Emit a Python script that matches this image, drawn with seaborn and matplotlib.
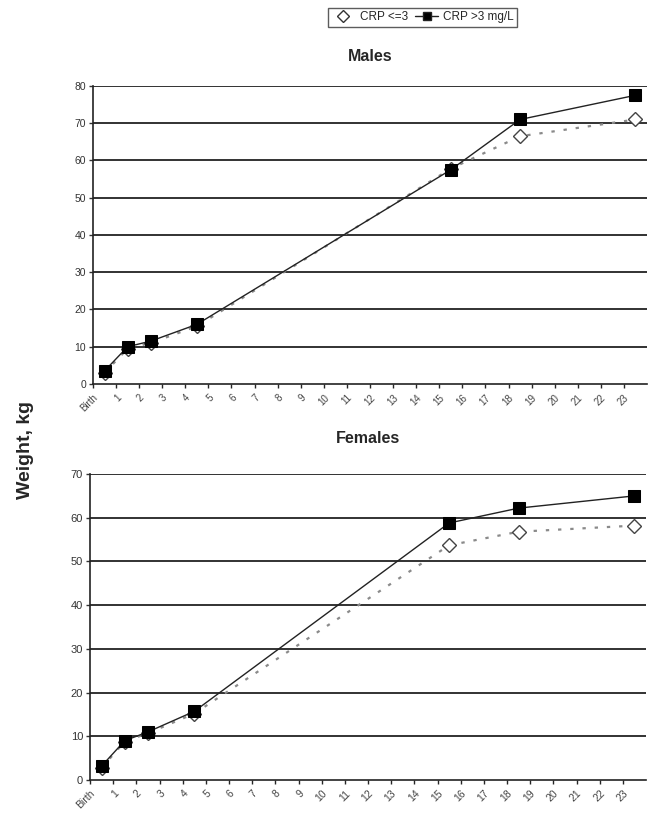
import matplotlib
matplotlib.use("Agg")
import matplotlib.pyplot as plt
from matplotlib.lines import Line2D
import seaborn as sns
import pandas as pd
import numpy as np

# ---- data ----
tick_labels = ["Birth"] + [str(i) for i in range(1, 24)]
age_categories = ["Birth", "1", "2", "4", "15", "18", "23"]
male_low = [3.0, 9.5, 11.0, 15.5, 57.8, 66.5, 71.0]
male_high = [3.5, 10.0, 11.5, 16.0, 57.5, 71.0, 77.5]
female_low = [2.8, 8.8, 10.7, 15.2, 53.7, 56.8, 58.2]
female_high = [3.2, 9.0, 11.0, 15.7, 58.8, 62.2, 65.0]
series_names = ["CRP <=3", "CRP >3 mg/L"]

sns.set_style("white")
plt.rcParams["font.family"] = ["Liberation Sans", "DejaVu Sans"]

fig = plt.figure(figsize=(6.48, 8.18), dpi=100)
ax_m = fig.add_axes([0.1435, 0.5306, 0.855, 0.3643])
ax_f = fig.add_axes([0.139, 0.0465, 0.858, 0.374])

# category centre positions on a 0..24 axis (ticks at integers)
pos = [tick_labels.index(c) + 0.5 for c in age_categories]


def draw(ax, low, high, ymax, title, fs_tick, tpad):
    df = pd.DataFrame({"x": pos, "low": low, "high": high})
    sns.lineplot(data=df, x="x", y="low", ax=ax, color="#8a8a8a",
                 linestyle=(0, (1.5, 4)), linewidth=1.6, marker="D",
                 markersize=7.5, markerfacecolor="white",
                 markeredgecolor="#444444", markeredgewidth=1.0, zorder=3)
    sns.lineplot(data=df, x="x", y="high", ax=ax, color="#222222",
                 linewidth=1.0, marker="s", markersize=8,
                 markerfacecolor="black", markeredgecolor="black", zorder=4)
    ax.set_xlim(0, 24)
    ax.set_ylim(0, ymax)
    ax.set_yticks(np.arange(0, ymax + 1, 10))
    for v in np.arange(10, ymax + 1, 10):
        ax.axhline(v, color="#222222", linewidth=1.3, zorder=1)
    ax.set_xticks(np.arange(0, 24))
    ax.set_xticklabels(tick_labels, rotation=45, ha="right",
                       rotation_mode="anchor", fontsize=fs_tick,
                       color="#444444")
    ax.tick_params(axis="y", labelsize=fs_tick + 0.5, colors="#333333",
                   length=3, width=1, direction="out", left=True, pad=2)
    ax.tick_params(axis="x", length=3, width=1, direction="out",
                   bottom=True, pad=3)
    for s in ["top", "right"]:
        ax.spines[s].set_visible(False)
    for s in ["left", "bottom"]:
        ax.spines[s].set_color("#222222")
        ax.spines[s].set_linewidth(1.2)
    ax.set_xlabel("")
    ax.set_ylabel("")
    ax.set_title(title, fontsize=11.5, fontweight="bold", pad=tpad)


draw(ax_m, male_low, male_high, 80, "Males", 7, 18)
draw(ax_f, female_low, female_high, 70, "Females", 7.5, 22)

fig.text(0.039, 0.45, "Weight, kg", rotation=90, fontsize=14,
         fontweight="bold", ha="center", va="center")

handles = [
    Line2D([], [], linestyle="none", marker="D", markersize=6,
           markerfacecolor="white", markeredgecolor="#333333"),
    Line2D([], [], color="#222222", linewidth=1.0, marker="s",
           markersize=6, markerfacecolor="black"),
]
leg = fig.legend(handles, series_names, loc="center",
                 bbox_to_anchor=(0.652, 0.979), ncol=2, fontsize=8.5,
                 frameon=True, fancybox=False, handlelength=2.0,
                 columnspacing=0.6, handletextpad=0.4, borderpad=0.3)
leg.get_frame().set_edgecolor("#333333")
leg.get_frame().set_linewidth(1.0)

fig.savefig("out.png", dpi=100)
